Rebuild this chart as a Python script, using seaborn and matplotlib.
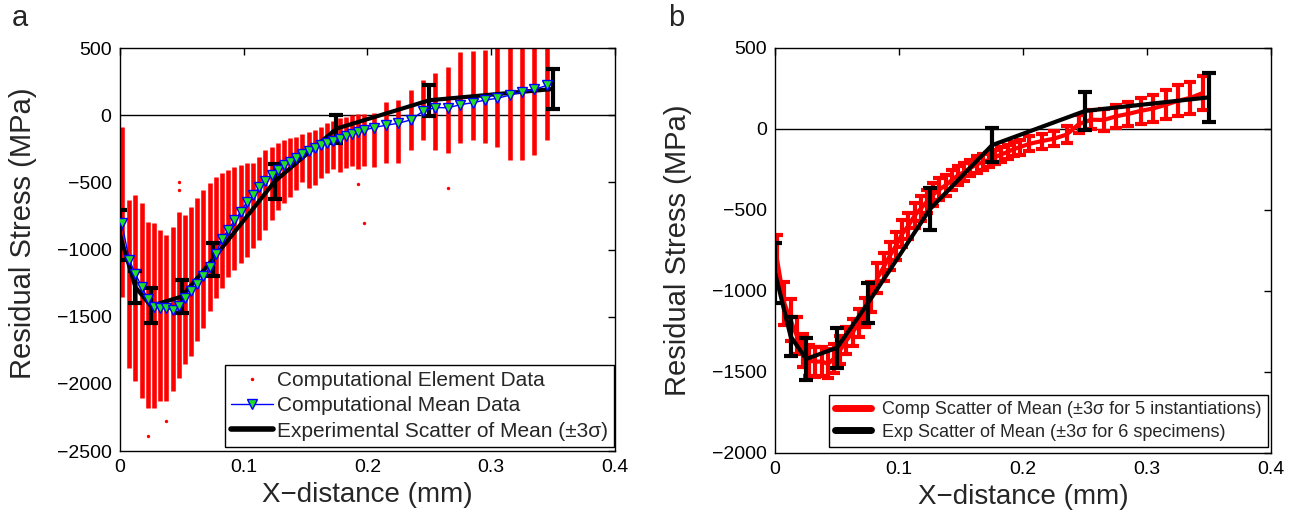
import numpy as np
import pandas as pd
import matplotlib
matplotlib.use("Agg")
import matplotlib.pyplot as plt
import seaborn as sns
from matplotlib.lines import Line2D

# element centres along the cut (mm)
x_elem = [0.0015, 0.0075, 0.0125, 0.0175, 0.0225, 0.0275, 0.0325, 0.0375, 0.0425, 0.0475,
          0.0525, 0.0575, 0.0625, 0.0675, 0.0725, 0.0775, 0.0825, 0.0875, 0.0925, 0.0975,
          0.1025, 0.1075, 0.1125, 0.1175, 0.1225, 0.1275, 0.1325, 0.1375, 0.1425, 0.1475,
          0.1525, 0.1575, 0.1625, 0.1675, 0.1725, 0.1775, 0.1825, 0.1875, 0.1925, 0.1975,
          0.205, 0.215, 0.225, 0.235, 0.245, 0.255, 0.265, 0.275, 0.285, 0.295,
          0.305, 0.315, 0.325, 0.335, 0.345]

# computational mean stress (MPa)
comp_mean = [-803, -1077, -1181, -1276, -1368, -1430, -1437, -1435, -1450, -1417,
             -1363, -1306, -1256, -1199, -1132, -1037, -920, -853, -783, -721,
             -647, -597, -535, -492, -448, -405, -373, -348, -316, -286,
             -266, -241, -219, -204, -192, -174, -157, -142, -124, -112,
             -92, -75, -60, -35, 30, 57, 55, 78, 93, 112,
             126, 149, 174, 192, 222]

# spread of the element data at each x (dense part of the column)
elem_top = [-90, -634, -597, -657, -798, -806, -858, -895, -836, -724,
            -746, -686, -619, -560, -507, -462, -433, -410, -388, -373,
            -358, -358, -313, -261, -239, -209, -187, -172, -164, -140,
            -125, -110, -90, -60, -40, -20, -10, 0, 10, 10,
            15, 97, 112, 187, 261, 313, 358, 470, 480, 485,
            520, 520, 520, 520, 520]
elem_bot = [-1350, -1880, -1977, -2104, -2178, -2178, -2126, -2126, -2052, -1955,
            -1850, -1790, -1679, -1581, -1455, -1358, -1283, -1208, -1156, -1104,
            -1059, -985, -932, -858, -783, -709, -657, -612, -560, -500,
            -540, -520, -470, -430, -400, -420, -390, -380, -400, -380,
            -388, -358, -358, -261, -187, -261, -283, -209, -187, -209,
            -239, -336, -336, -298, -187]

# a few isolated element values
out_x = [0.0225, 0.0375, 0.0475, 0.0475, 0.1925, 0.1975, 0.265]
out_y = [-2390, -2280, -500, -560, -510, -800, -540]

# +-3 sigma of the mean over 5 instantiations
comp_err = [150, 132, 130, 115, 100, 95, 92, 92, 90, 88,
            85, 85, 85, 88, 90, 92, 90, 88, 85, 85,
            83, 80, 78, 75, 72, 70, 68, 65, 62, 60,
            55, 52, 50, 48, 46, 45, 45, 45, 45, 46,
            46, 46, 48, 50, 55, 60, 65, 70, 75, 80,
            85, 90, 95, 100, 105]

# experiment: mean of 6 specimens and +-3 sigma
exp_x = [0, 0.0125, 0.025, 0.05, 0.075, 0.125, 0.175, 0.25, 0.35]
exp_mean = [-890, -1280, -1420, -1350, -1074, -494, -100, 111, 195]
exp_err = [185, 120, 130, 123, 123, 130, 105, 117, 150]

sns.set_theme(style="white")
plt.rcParams['font.family'] = ['Liberation Sans', 'DejaVu Sans']
plt.rcParams['axes.edgecolor'] = 'black'
plt.rcParams['axes.linewidth'] = 1.0

fig = plt.figure(figsize=(12.94, 5.18), dpi=100)
ax1 = fig.add_axes([0.0927, 0.1293, 0.3825, 0.778])
ax2 = fig.add_axes([0.599, 0.1255, 0.3833, 0.782])

# ---- panel a ----
ax1.axhline(0, color='black', lw=1, zorder=1)
ax1.vlines(x_elem, elem_bot, elem_top, color='red', lw=3.3, zorder=2)
sns.scatterplot(x=out_x, y=out_y, ax=ax1, color='red', s=6, linewidth=0, zorder=2)
ax1.errorbar(exp_x, exp_mean, yerr=exp_err, color='black', lw=3,
             capsize=5, capthick=3, zorder=3)
sns.lineplot(x=x_elem, y=comp_mean, ax=ax1, sort=False, color='blue', lw=1,
             marker='v', markersize=7, markerfacecolor='#22dd22',
             markeredgecolor='blue', markeredgewidth=1, zorder=4)

ax1.set_xlim(0, 0.4)
ax1.set_ylim(-2500, 500)
ax1.set_xticks([0, 0.1, 0.2, 0.3, 0.4])
ax1.set_xticklabels(['0', '0.1', '0.2', '0.3', '0.4'])
ax1.set_yticks([500, 0, -500, -1000, -1500, -2000, -2500])

handles1 = [
    Line2D([], [], ls='none', marker='.', color='red', markersize=3),
    Line2D([], [], color='blue', lw=1, marker='v', markersize=7,
           markerfacecolor='#22dd22', markeredgecolor='blue'),
    Line2D([], [], color='black', lw=4),
]
labels1 = ['Computational Element Data', 'Computational Mean Data',
           'Experimental Scatter of Mean (\u00b13\u03c3)']
leg1 = ax1.legend(handles1, labels1, loc='lower right', bbox_to_anchor=(0.998, 0.01),
                  borderaxespad=0, fontsize=15, frameon=True, fancybox=False,
                  edgecolor='black', framealpha=1, handlelength=2.0,
                  handletextpad=0.2, labelspacing=0.3, borderpad=0.3)
leg1.get_frame().set_linewidth(1)

# ---- panel b ----
ax2.axhline(0, color='black', lw=1, zorder=1)
ax2.errorbar(x_elem, comp_mean, yerr=comp_err, color='red', lw=3,
             capsize=4, capthick=3, zorder=2)
ax2.errorbar(exp_x, exp_mean, yerr=exp_err, color='black', lw=3,
             capsize=5, capthick=3, zorder=3)

ax2.set_xlim(0, 0.4)
ax2.set_ylim(-2000, 500)
ax2.set_xticks([0, 0.1, 0.2, 0.3, 0.4])
ax2.set_xticklabels(['0', '0.1', '0.2', '0.3', '0.4'])
ax2.set_yticks([500, 0, -500, -1000, -1500, -2000])

handles2 = [Line2D([], [], color='red', lw=5), Line2D([], [], color='black', lw=5)]
labels2 = ['Comp Scatter of Mean (\u00b13\u03c3 for 5 instantiations)',
           'Exp Scatter of Mean (\u00b13\u03c3 for 6 specimens)']
leg2 = ax2.legend(handles2, labels2, loc='lower right', bbox_to_anchor=(0.994, 0.015),
                  borderaxespad=0, fontsize=13, frameon=True, fancybox=False,
                  edgecolor='black', framealpha=1, handlelength=2.0,
                  handletextpad=0.6, labelspacing=0.3, borderpad=0.35)
leg2.get_frame().set_linewidth(1)

for ax in (ax1, ax2):
    ax.tick_params(direction='in', top=True, right=True, length=5, width=1,
                   labelsize=14, pad=6, colors='black')
    for s in ax.spines.values():
        s.set_visible(True)
        s.set_color('black')
        s.set_linewidth(1)
    ax.set_xlabel('X\u2212distance (mm)', fontsize=20, labelpad=4)
    ax.set_ylabel('Residual Stress (MPa)', fontsize=21)

ax1.yaxis.set_label_coords(-0.168, 0.54)
ax2.yaxis.set_label_coords(-0.168, 0.5)

fig.text(0.009, 0.965, 'a', fontsize=21, va='center')
fig.text(0.516, 0.965, 'b', fontsize=21, va='center')

fig.savefig('out.png', dpi=100)
